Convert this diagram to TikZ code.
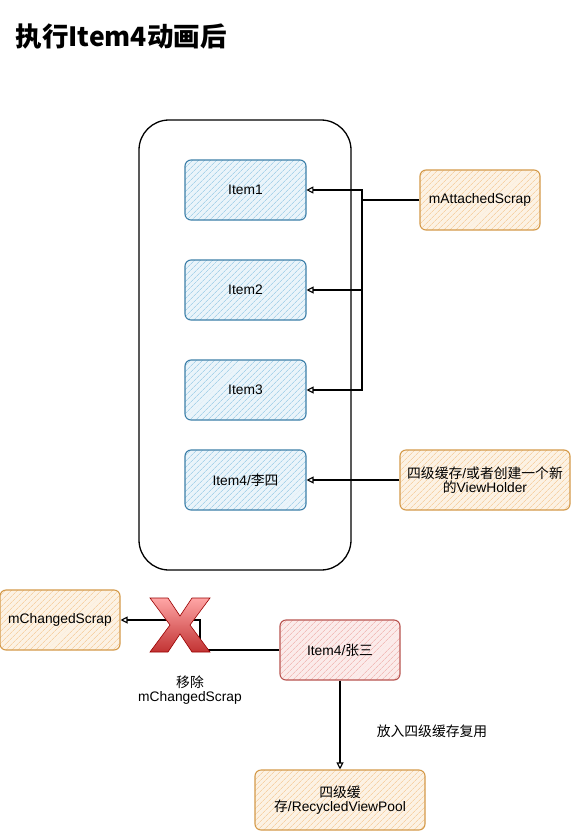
\documentclass[tikz,border=0pt]{standalone}
\usepackage{fontspec}
\setmainfont{Liberation Sans}
\newfontfamily\cjk{Noto Sans CJK SC}
\usetikzlibrary{positioning, arrows.meta, patterns.meta}

\definecolor{itemline}{HTML}{3D7FA8}
\definecolor{itemhatch}{HTML}{A9D3EA}
\definecolor{cacheline}{HTML}{D49A4A}
\definecolor{cachehatch}{HTML}{F6D2A6}
\definecolor{zhangline}{HTML}{B85450}
\definecolor{zhanghatch}{HTML}{F2BDBA}

\begin{document}
\begin{tikzpicture}[x=1pt, y=-1pt, font=\fontsize{13.8}{15}\selectfont,
    arr/.style={-{Triangle[open, length=7pt, width=7pt]}, line width=1.1pt},
    box/.style={rounded corners=6pt, line width=1.1pt, minimum width=121pt, minimum height=60pt, align=center},
    item/.style={box, draw=itemline, preaction={fill=itemhatch!25},
        pattern={Lines[angle=45, distance=4pt, line width=0.7pt]}, pattern color=itemhatch},
    cache/.style={box, draw=cacheline, preaction={fill=cachehatch!30},
        pattern={Lines[angle=45, distance=4pt, line width=0.7pt]}, pattern color=cachehatch},
    zhang/.style={box, draw=zhangline, preaction={fill=zhanghatch!30},
        pattern={Lines[angle=45, distance=4pt, line width=0.7pt]}, pattern color=zhanghatch}]
    \useasboundingbox (0,0) rectangle (571,831);

    \node[anchor=west, font=\cjk\bfseries\fontsize{26.5}{30}\selectfont] (title) at (12,37) {执行Item4动画后};

    % phone frame and items
    \node[draw, line width=1.3pt, rounded corners=30pt, minimum width=212pt, minimum height=450pt] (phone) at (245,345) {};
    \node[item] (item1) at (245.5,190) {Item1};
    \node[item] (item2) at (245.5,290) {Item2};
    \node[item] (item3) at (245.5,390) {Item3};
    \node[item] (item4) at (245.5,480) {Item4/{\cjk 李四}};

    \node[cache, minimum width=120pt] (attached) at (480,200) {mAttachedScrap};
    \node[cache, minimum width=170pt] (holder) at (485,480) {{\cjk 四级缓存}/{\cjk 或者创建一个新}\\[-1pt]{\cjk 的}ViewHolder};

    \coordinate (bus) at (362,200);
    \draw[line width=1.1pt] (attached.west) -- (bus);
    \draw[arr] (bus) |- (item1.east);
    \draw[arr] (bus) |- (item2.east);
    \draw[arr] (bus) |- (item3.east);
    \draw[arr] (holder.west) -- (item4.east);

    % bottom part
    \node[cache, minimum width=120pt] (changed) at (60,620) {mChangedScrap};
    \node[zhang, minimum width=120pt] (zhang3) at (340,650) {Item4/{\cjk 张三}};
    \node[cache, minimum width=170pt] (pool) at (340,800) {{\cjk 四级缓}\\[-1pt]{\cjk 存}/RecycledViewPool};

    \coordinate (bend) at (200,650);
    \draw[arr] (zhang3.west) -- (bend) |- (changed.east);
    \draw[arr] (zhang3.south) -- (pool.north);

    % red cross
    \shade[top color=red!35!white, bottom color=red!70!black!80, draw=red!60!black, line width=0.6pt]
        (150,598) -- (168,598) -- (180,616) -- (192,598) -- (210,598) -- (190,625)
        -- (210,652) -- (192,652) -- (180,634) -- (168,652) -- (150,652) -- (170,625) -- cycle;

    \node[align=center] (removed) at (190,690) {{\cjk 移除}\\[-1pt]mChangedScrap};
    \node (reuse) at (432,731) {\cjk 放入四级缓存复用};
\end{tikzpicture}
\end{document}
